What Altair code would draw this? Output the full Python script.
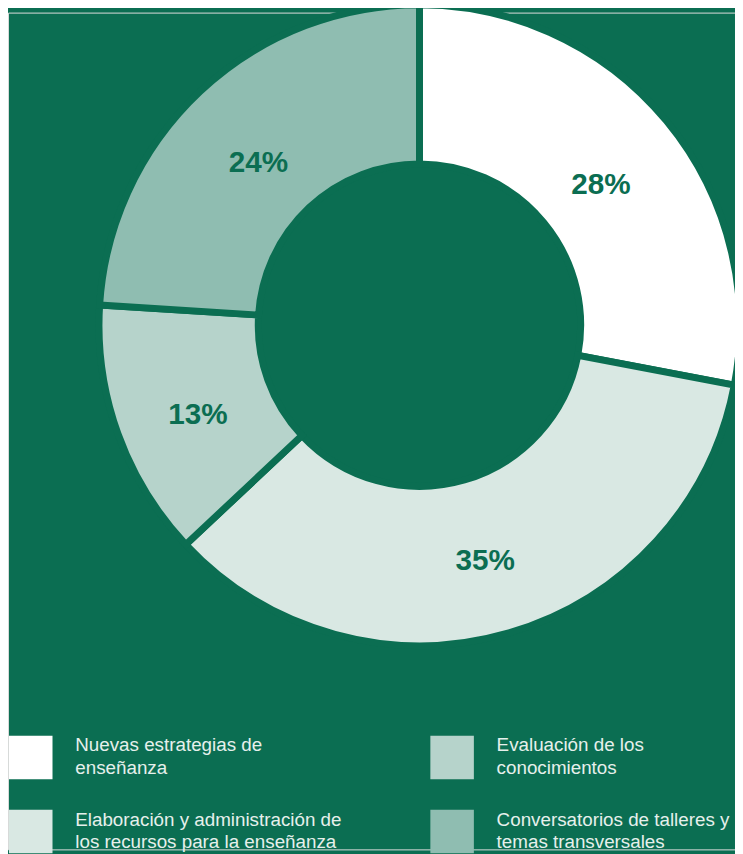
import altair as alt
import pandas as pd

# Data
categories = [
    "Nuevas estrategias de|enseñanza",
    "Elaboración y administración de|los recursos para la enseñanza",
    "Evaluación de los|conocimientos",
    "Conversatorios de talleres y|temas transversales",
]
values = [28, 35, 13, 24]
labels = ["28%", "35%", "13%", "24%"]
slice_order = [0, 1, 2, 3]

# legend order (row-wise, 2 columns)
legend_domain = [categories[0], categories[2], categories[1], categories[3]]
colors = {
    categories[0]: "#ffffff",
    categories[1]: "#d9e8e3",
    categories[2]: "#b6d3cb",
    categories[3]: "#8fbdb1",
}
legend_range = [colors[c] for c in legend_domain]

BG = "#0b6e52"

df = pd.DataFrame({"cat": categories, "val": values, "lab": labels, "ord": slice_order})

base = alt.Chart(df).encode(
    theta=alt.Theta("val:Q", stack=True),
    order=alt.Order("ord:Q", sort="ascending"),
)

CX, CY = 416, 316

arcs = base.mark_arc(
    outerRadius=324, innerRadius=163, stroke=BG, strokeWidth=7
).encode(
    x=alt.value(CX),
    y=alt.value(CY),
    color=alt.Color(
        "cat:N",
        scale=alt.Scale(domain=legend_domain, range=legend_range),
        legend=alt.Legend(
            title=None,
            orient="none",
            legendX=1,
            legendY=731,
            columns=2,
            direction="horizontal",
            symbolType="square",
            symbolSize=1936,
            symbolStrokeWidth=0,
            symbolOpacity=1,
            labelFont="Liberation Sans",
            labelFontSize=19,
            labelColor="#e6f0ec",
            labelOffset=23,
            labelLimit=400,
            labelBaseline="line-bottom",
            columnPadding=89,
            rowPadding=31,
            labelExpr="split(datum.label, '|')",
        ),
    ),
)

texts = base.mark_text(
    radius=238, dy=10, font="Liberation Sans", fontSize=30, fontWeight="bold", color=BG
).encode(
    x=alt.value(CX),
    y=alt.value(CY),
    text="lab:N",
)

chart = (
    alt.layer(arcs, texts)
    .properties(width=735, height=846, background=BG, padding=0, autosize=alt.AutoSizeParams(type="none"))
    .configure_view(stroke=None)
    .configure(style={"guide-label": {"lineHeight": 23}})
)

chart.save("out.html", embed_options={"renderer": "svg", "actions": False})
